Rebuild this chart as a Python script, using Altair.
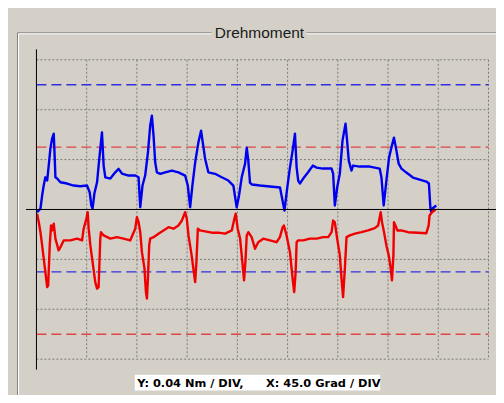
import altair as alt
import pandas as pd

BG = "#D4D0C8"

# ---- data (degrees, Nm) ----
blue_deg = [0.6, 3.6, 5.1, 6.5, 8.0, 9.6, 11.0, 12.5, 14.0, 15.5, 16.4, 17.0, 18.5, 21.5, 27.4, 33.3, 39.3, 45.3,
            47.7, 49.2, 50.3, 51.9, 54.3, 55.7, 57.2, 58.7, 60.2, 61.7, 66.2, 70.6, 73.6, 76.6, 82.5, 88.5,
            91.5, 93.0, 95.0, 97.4, 99.9, 101.9, 103.4, 104.9, 106.4, 107.9, 110.9, 115.3, 121.3, 127.2, 133.2,
            135.6, 137.7, 139.7, 142.2, 145.1, 147.5, 149.0, 151.1, 154.0, 160.0, 166.0, 171.9, 176.4,
            179.4, 181.5, 183.9, 186.9, 188.4, 189.8, 191.3, 193.1, 200.3, 209.2, 218.2,
            222.2, 224.7, 227.1, 229.5, 231.6, 233.1, 234.5, 236.0, 239.0, 243.2, 247.6, 251.0, 256.6, 264.4, 265.8,
            267.3, 269.4, 271.8, 274.2, 276.9, 278.3, 279.8, 282.2, 283.7, 289.7, 298.6, 307.5, 309.1,
            311.1, 313.5, 315.9, 318.0, 320.3, 322.5, 324.5, 327.0, 331.4, 337.3, 343.3, 349.3, 351.6,
            352.9, 353.8, 354.7, 358.2]
blue_nm = [-0.0022, 0.0006, 0.0112, 0.0192, 0.0258, 0.0232, 0.0352, 0.0488, 0.0568, 0.0608, 0.0408, 0.0258, 0.0248, 0.0218, 0.0208, 0.0192, 0.0186, 0.0192,
           0.0138, 0.0032, 0.0008, 0.0128, 0.0218, 0.0352, 0.0486, 0.0618, 0.0352, 0.0258, 0.0248, 0.0298, 0.0326, 0.0288, 0.0272, 0.0272,
           0.0258, 0.0018, 0.0192, 0.0272, 0.0458, 0.0672, 0.0752, 0.0592, 0.0378, 0.0298, 0.0286, 0.0298, 0.0312, 0.0298, 0.0272,
           0.0192, 0.0018, 0.0192, 0.0378, 0.0538, 0.0632, 0.0538, 0.0406, 0.0298, 0.0286, 0.0258, 0.0232, 0.0192,
           0.0018, 0.0112, 0.0258, 0.0366, 0.0496, 0.0392, 0.0216, 0.0200, 0.0192, 0.0184, 0.0176,
           -0.0008, 0.0176, 0.0336, 0.0472, 0.0608, 0.0336, 0.0232, 0.0208, 0.0248, 0.0296, 0.0352, 0.0336, 0.0328, 0.0328, 0.0288,
           0.0032, 0.0176, 0.0288, 0.0552, 0.0688, 0.0552, 0.0392, 0.0312, 0.0352, 0.0344, 0.0344, 0.0328, 0.0256,
           0.0032, 0.0232, 0.0416, 0.0496, 0.0576, 0.0472, 0.0368, 0.0328, 0.0296, 0.0256, 0.0240, 0.0224, 0.0208,
           0.0016, -0.0024, 0.0008, 0.0032]

red_deg = [0.6, 2.1, 3.6, 5.1, 6.5, 8.0, 9.6, 10.5, 11.9, 13.1, 14.0, 15.5, 17.0, 19.9, 21.5, 24.4, 30.4, 36.4, 40.9,
           42.3, 44.7, 45.9, 46.8, 48.3, 50.7, 52.7, 54.3, 55.7, 57.2, 57.8, 60.2, 66.2, 72.1, 78.0, 84.0,
           88.5, 90.0, 91.5, 93.0, 94.5, 96.8, 98.1, 99.0, 99.9, 101.0, 101.9, 104.9, 109.3, 113.8, 118.3, 122.8, 127.2,
           130.3, 133.2, 134.7, 136.2, 138.6, 140.6, 142.2, 143.3, 144.6, 146.6, 151.1, 157.1, 163.0, 169.0, 175.0,
           177.3, 178.5, 180.3, 182.4, 183.9, 186.0, 187.2, 188.4, 189.8, 192.8, 195.8, 198.7, 203.2, 209.2, 215.2,
           218.1, 220.6, 221.7, 224.1, 227.1, 229.5, 230.9, 232.2, 233.1, 234.5, 239.0, 245.0, 251.0, 256.9, 261.4,
           264.4, 265.8, 267.3, 269.4, 271.8, 273.3, 274.7, 276.3, 277.8, 280.8, 285.3, 291.2, 297.1, 303.1, 306.1,
           308.4, 309.6, 311.4, 313.5, 315.6, 317.4, 318.5, 319.8, 320.3, 321.6, 323.4, 326.9, 332.9, 341.8, 349.3,
           351.4, 352.2, 354.3, 356.7, 357.3]
red_nm = [-0.0034, -0.0102, -0.0182, -0.0288, -0.0392, -0.0502, -0.0622, -0.0608, -0.0288, -0.0128, -0.0168, -0.0114, -0.0234, -0.0328, -0.0302, -0.0248, -0.0248, -0.0234, -0.0248,
          -0.0154, -0.0074, -0.0022, -0.0154, -0.0288, -0.0448, -0.0582, -0.0634, -0.0622, -0.0234, -0.0182, -0.0208, -0.0234, -0.0222, -0.0234, -0.0248,
          -0.0154, -0.0062, -0.0102, -0.0182, -0.0342, -0.0474, -0.0662, -0.0714, -0.0552, -0.0288, -0.0234, -0.0222, -0.0194, -0.0168, -0.0142, -0.0154, -0.0128,
          -0.0088, -0.0022, -0.0074, -0.0208, -0.0342, -0.0474, -0.0582, -0.0422, -0.0154, -0.0168, -0.0176, -0.0186, -0.0186, -0.0194, -0.0168,
          -0.0074, -0.0034, -0.0154, -0.0230, -0.0368, -0.0568, -0.0422, -0.0208, -0.0182, -0.0222, -0.0314, -0.0262, -0.0234, -0.0248, -0.0262,
          -0.0222, -0.0142, -0.0128, -0.0208, -0.0342, -0.0554, -0.0662, -0.0502, -0.0262, -0.0248, -0.0248, -0.0234, -0.0234, -0.0222, -0.0222,
          -0.0182, -0.0088, -0.0102, -0.0234, -0.0368, -0.0554, -0.0702, -0.0474, -0.0222, -0.0208, -0.0194, -0.0182, -0.0168, -0.0150, -0.0128,
          -0.0022, -0.0102, -0.0182, -0.0288, -0.0368, -0.0474, -0.0568, -0.0368, -0.0102, -0.0128, -0.0168, -0.0168, -0.0182, -0.0186, -0.0190,
          -0.0128, -0.0048, -0.0022, -0.0008, 0.0006]

grid_x = [45, 90, 135, 180, 225, 270, 315, 360, 405]
grid_y = [-0.12, -0.08, -0.04, 0.04, 0.08, 0.12]
limit_nm = [0.10, 0.05, -0.05, -0.10]
limit_col = ["#3030E0", "#E04444", "#3030E0", "#E04444"]

title_text = "Drehmoment"
label_y = "Y: 0.04 Nm / DIV,"
label_x = "X: 45.0 Grad / DIV"

W, H = 453, 300
xs = alt.Scale(domain=[0, 405], nice=False, zero=False)
ys = alt.Scale(domain=[-0.12, 0.12], nice=False, zero=False)

blue = pd.DataFrame({"deg": blue_deg, "nm": blue_nm, "i": range(len(blue_deg))})
red = pd.DataFrame({"deg": red_deg, "nm": red_nm, "i": range(len(red_deg))})
gx = pd.DataFrame({"g": grid_x})
gy = pd.DataFrame({"g": grid_y})
lim = pd.DataFrame({"v": limit_nm, "c": limit_col})
one = pd.DataFrame({"a": [0]})

box_grey = alt.Chart(one).mark_rect(fillOpacity=0, stroke="#808080", strokeWidth=1).encode(
    x=alt.value(-19), x2=alt.value(466), y=alt.value(-27), y2=alt.value(338))
box_white = alt.Chart(one).mark_rect(fillOpacity=0, stroke="#FFFFFF", strokeWidth=1).encode(
    x=alt.value(-18), x2=alt.value(467), y=alt.value(-26), y2=alt.value(339))
title_bg = alt.Chart(one).mark_rect(fill=BG).encode(
    x=alt.value(175.5), x2=alt.value(270.5), y=alt.value(-35.5), y2=alt.value(-17.5))
title = alt.Chart(one).mark_text(text=title_text, font="Liberation Sans", fontSize=15.5,
                                 color="#1A1A1A", align="center", baseline="alphabetic").encode(
    x=alt.value(223.5), y=alt.value(-22))

vgrid = alt.Chart(gx).mark_rule(color="#7A7A7A", strokeWidth=1, strokeDash=[2, 2]).encode(
    x=alt.X("g:Q", scale=xs, axis=None), y=alt.value(0), y2=alt.value(H))
hgrid = alt.Chart(gy).mark_rule(color="#7A7A7A", strokeWidth=1, strokeDash=[2, 2]).encode(
    y=alt.Y("g:Q", scale=ys, axis=None), x=alt.value(0), x2=alt.value(W))
limits = alt.Chart(lim).mark_rule(strokeWidth=1.3, strokeDash=[10, 5]).encode(
    y=alt.Y("v:Q", scale=ys, axis=None), x=alt.value(0), x2=alt.value(W),
    color=alt.Color("c:N", scale=None))

blue_line = alt.Chart(blue).mark_line(color="#0000F0", strokeWidth=2.4, strokeJoin="round").encode(
    x=alt.X("deg:Q", scale=xs, axis=None), y=alt.Y("nm:Q", scale=ys, axis=None), order="i:Q")
red_line = alt.Chart(red).mark_line(color="#F00000", strokeWidth=2.4, strokeJoin="round").encode(
    x=alt.X("deg:Q", scale=xs, axis=None), y=alt.Y("nm:Q", scale=ys, axis=None), order="i:Q")

zero_line = alt.Chart(one).mark_rule(color="#000000", strokeWidth=1).encode(
    y=alt.Y("a:Q", scale=ys, axis=None), x=alt.value(-10.5), x2=alt.value(461.5))
y_axis = alt.Chart(one).mark_rule(color="#000000", strokeWidth=1).encode(
    x=alt.value(0), y=alt.value(-10.5), y2=alt.value(310.5))

label_bg = alt.Chart(one).mark_rect(fill="#FFFFFF").encode(
    x=alt.value(98.5), x2=alt.value(344.5), y=alt.value(315.5), y2=alt.value(331.5))
label1 = alt.Chart(one).mark_text(text=label_y, font="DejaVu Sans", fontWeight="bold", fontSize=11.4,
                                  color="#000000", align="left", baseline="alphabetic").encode(
    x=alt.value(101), y=alt.value(328))
label2 = alt.Chart(one).mark_text(text=label_x, font="DejaVu Sans", fontWeight="bold", fontSize=11.4,
                                  color="#000000", align="left", baseline="alphabetic").encode(
    x=alt.value(230), y=alt.value(328))

chart = alt.layer(
    box_grey, box_white, title_bg, title, vgrid, hgrid, limits,
    blue_line, red_line, zero_line, y_axis, label_bg, label1, label2
).properties(
    width=W, height=H,
    background=BG,
    padding={"left": 28.5, "top": 51.5, "right": 7.5, "bottom": 35.5},
    autosize=alt.AutoSizeParams(type="none"),
).configure_view(stroke=None)

chart.save("out.html", embed_options={"renderer": "svg", "actions": False})
